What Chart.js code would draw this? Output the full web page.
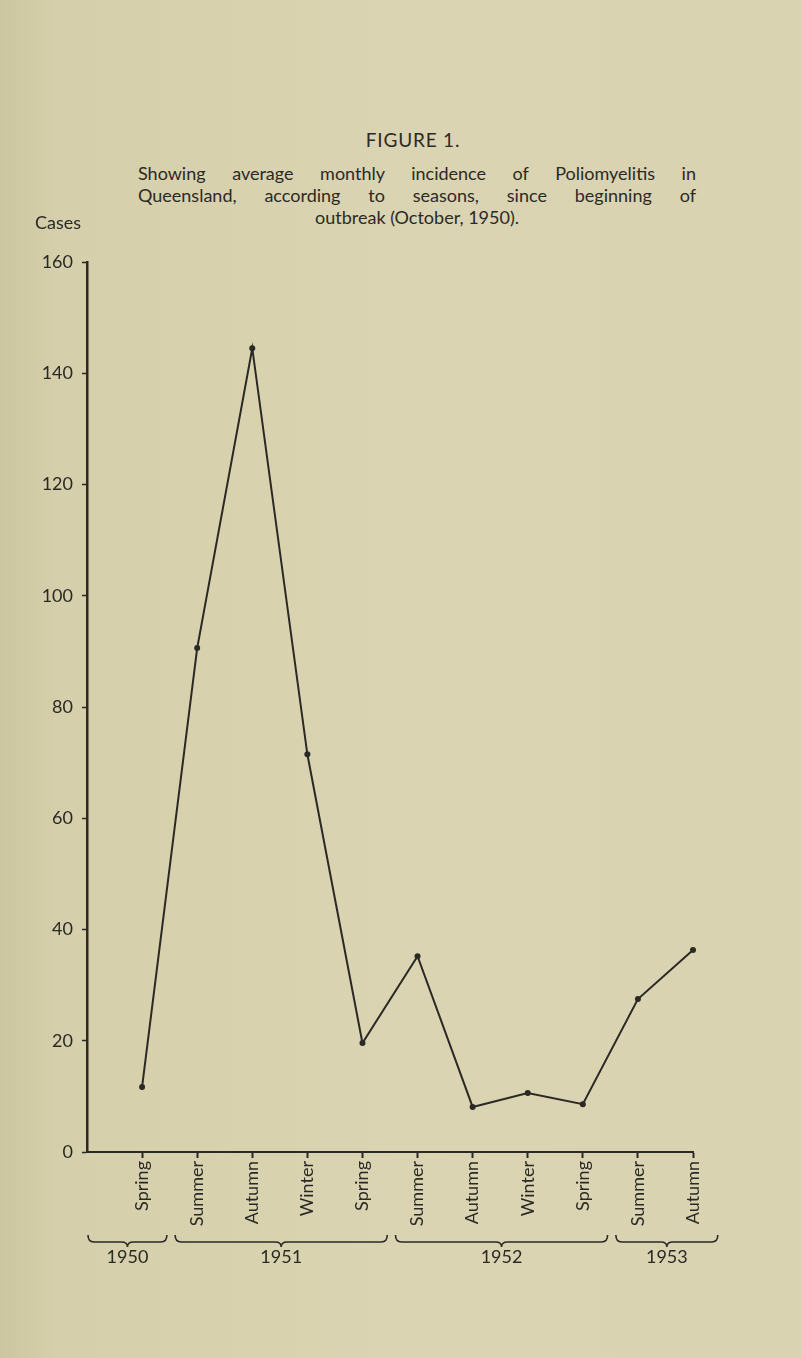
<!DOCTYPE html>
<html>
<head>
<meta charset="utf-8">
<script src="https://cdn.jsdelivr.net/npm/chart.js@4.4.1/dist/chart.umd.min.js"></script>
<style>
  html, body { margin: 0; padding: 0; }
  body {
    width: 801px; height: 1358px; overflow: hidden; position: relative;
    background: linear-gradient(to right, #ccc6a0 0px, #d5cfab 60px, #dad4b2 400px, #d9d3b1 801px);
    font-family: Lato, "Open Sans", sans-serif; color: #2b2a26;
  }
  #fig { position: absolute; left: 0; width: 826px; top: 128px; text-align: center; font-size: 19px; letter-spacing: 0.8px; }
  #desc { position: absolute; left: 138px; width: 558px; top: 162px; font-size: 18px; line-height: 22px; }
  #desc div { text-align: justify; text-align-last: justify; }
  #desc div.last { text-align: center; text-align-last: center; }
  canvas { position: absolute; left: 0; top: 0; }
</style>
</head>
<body>
<div id="fig">FIGURE 1.</div>
<div id="desc">
  <div>Showing average monthly incidence of Poliomyelitis in</div>
  <div>Queensland, according to seasons, since beginning of</div>
  <div class="last">outbreak (October, 1950).</div>
</div>
<canvas id="chart" width="801" height="1358"></canvas>
<script>
// seasons along the bottom, one reading each
const seasons = ["Spring", "Summer", "Autumn", "Winter", "Spring", "Summer", "Autumn", "Winter", "Spring", "Summer", "Autumn"];
const cases = [11.7, 90.6, 144.5, 71.5, 19.6, 35.2, 8.1, 10.6, 8.6, 27.5, 36.3];

// years grouped under braces (season numbers, 1-based)
const years = ["1950", "1951", "1952", "1953"];
const yearFirst = [1, 2, 6, 10];
const yearLast = [1, 5, 9, 11];

const yMax = 160;
const yStep = 20;

const ink = "#2a2925";
const fontFamily = "Lato, 'Open Sans', sans-serif";

function drawBrace(ctx, x1, x2, y) {
    const cx = (x1 + x2) / 2;
    const r = 6, d = 7;
    ctx.beginPath();
    ctx.moveTo(x1, y);
    ctx.quadraticCurveTo(x1, y + d, x1 + r, y + d);
    ctx.lineTo(cx - r, y + d);
    ctx.quadraticCurveTo(cx, y + d, cx, y + d + 5);
    ctx.quadraticCurveTo(cx, y + d, cx + r, y + d);
    ctx.lineTo(x2 - r, y + d);
    ctx.quadraticCurveTo(x2, y + d, x2, y);
    ctx.stroke();
}

// braces, years and the "Cases" label
const extras = {
    id: "extras",
    afterDraw(chart) {
        const { ctx, chartArea, scales } = chart;
        const x = scales.x;
        ctx.save();
        ctx.strokeStyle = ink;
        ctx.fillStyle = ink;
        ctx.lineWidth = 1.6;
        ctx.font = "18px " + fontFamily;
        ctx.textAlign = "center";
        ctx.textBaseline = "middle";
        years.forEach((yr, i) => {
            const x1 = i === 0 ? chartArea.left + 1 : x.getPixelForValue(yearFirst[i] - 0.4);
            const x2 = x.getPixelForValue(yearLast[i] + 0.45);
            drawBrace(ctx, x1, x2, chartArea.bottom + 83);
            ctx.fillText(yr, (x1 + x2) / 2, chartArea.bottom + 105);
        });
        ctx.textAlign = "left";
        ctx.fillText("Cases", 35, chartArea.top - 39);
        ctx.restore();
    }
};

new Chart(document.getElementById("chart"), {
    type: "line",
    data: {
        datasets: [{
            data: cases.map((v, i) => ({ x: i + 1, y: v })),
            borderColor: ink,
            borderWidth: 2,
            pointRadius: 3,
            pointBackgroundColor: ink,
            pointBorderWidth: 0,
            tension: 0,
            fill: false,
            clip: false
        }]
    },
    options: {
        responsive: false,
        animation: false,
        layout: { padding: { left: 0, top: 262, right: 108, bottom: 0 } },
        plugins: {
            legend: { display: false },
            tooltip: { enabled: false }
        },
        scales: {
            x: {
                type: "linear",
                min: 0,
                max: seasons.length,
                afterFit: s => { s.height = 206; },
                border: { color: ink, width: 2 },
                grid: {
                    drawOnChartArea: false,
                    tickLength: 6,
                    tickWidth: 2,
                    tickColor: c => (c.tick && c.tick.value === 0) ? "rgba(0,0,0,0)" : ink
                },
                ticks: {
                    stepSize: 1,
                    autoSkip: false,
                    minRotation: 90,
                    maxRotation: 90,
                    padding: 3,
                    color: ink,
                    font: { family: fontFamily, size: 18 },
                    callback: v => seasons[v - 1] || ""
                }
            },
            y: {
                min: 0,
                max: yMax,
                afterFit: s => { s.width = 87; },
                border: { color: ink, width: 2.5 },
                grid: {
                    drawOnChartArea: false,
                    tickLength: 5,
                    tickWidth: 1.5,
                    tickColor: ink
                },
                ticks: {
                    stepSize: yStep,
                    padding: 9,
                    color: ink,
                    font: { family: fontFamily, size: 18 }
                }
            }
        }
    },
    plugins: [extras]
});
</script>
</body>
</html>
